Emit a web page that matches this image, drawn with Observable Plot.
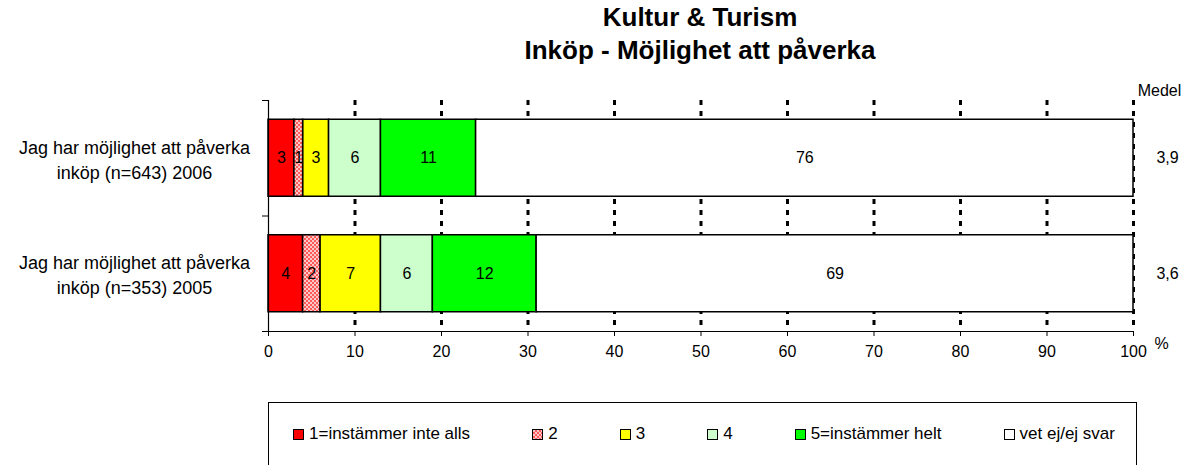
<!DOCTYPE html>
<html>
<head>
<meta charset="utf-8">
<script src="https://cdn.jsdelivr.net/npm/d3@7"></script>
<script src="https://cdn.jsdelivr.net/npm/@observablehq/plot@0.6"></script>
<style>
  html, body { margin: 0; padding: 0; background: #fff; }
  body { font-family: "Liberation Sans", Arial, sans-serif; }
  #wrap { position: relative; width: 1192px; height: 465px; overflow: hidden; }
  #chart { position: absolute; left: 0; top: 0; }
  .title { position: absolute; left: 350px; width: 700px; text-align: center; font-weight: bold; font-size: 26px; color: #000; line-height: 30px; }
  #legend { position: absolute; left: 268px; top: 402px; width: 869px; height: 80px; border: 1px solid #000; box-sizing: border-box; font-size: 17px;
            display: flex; justify-content: space-between; align-items: flex-start; padding: 21px 21px 0 24px; }
  .item { display: flex; align-items: center; white-space: nowrap; height: 20px; }
  .sw { width: 9px; height: 9px; border: 1px solid #000; margin-right: 5px; display: inline-block; }
</style>
</head>
<body>
<div id="wrap">
  <div id="chart"></div>
  <div class="title" style="top:2px">Kultur &amp; Turism</div>
  <div class="title" style="top:35px">Inköp - Möjlighet att påverka</div>
  <div id="legend"></div>
</div>
<script>
// ---- data ----
const categories = ["1=instämmer inte alls", "2", "3", "4", "5=instämmer helt", "vet ej/ej svar"];
const colors = ["#ff0000", "url(#pat2)", "#ffff00", "#ccffcc", "#00ff00", "#ffffff"];
const rowLabels = ["Jag har möjlighet att påverka\ninköp (n=643) 2006", "Jag har möjlighet att påverka\ninköp (n=353) 2005"];
const values2006 = [3, 1, 3, 6, 11, 76];
const values2005 = [4, 2, 7, 6, 12, 69];
const medel = ["3,9", "3,6"];
const xTicks = [0, 10, 20, 30, 40, 50, 60, 70, 80, 90, 100];

// build table
const rows = [values2006, values2005];
const data = [];
rows.forEach((vals, r) => {
  let acc = 0;
  vals.forEach((v, j) => {
    data.push({row: r, cat: categories[j], idx: j, value: v, x1: acc, x2: acc + v});
    acc += v;
  });
});
const rowData = rowLabels.map((label, i) => ({row: i, label, medel: medel[i]}));

const font = '"Liberation Sans", Arial, sans-serif';
const solid = data.filter(d => d.idx !== 1);
const patterned = data.filter(d => d.idx === 1);

const chart = Plot.plot({
  width: 1192,
  height: 465,
  marginLeft: 268,
  marginRight: 59,
  marginTop: 100,
  marginBottom: 134,
  style: {fontFamily: font, fontSize: "16px", color: "#000", background: "transparent", overflow: "visible"},
  x: {domain: [0, 100]},
  y: {domain: [0, 2], reverse: true},
  marks: [
    // dotted gridlines
    Plot.ruleX(xTicks.slice(1), {stroke: "#000", strokeWidth: 3, strokeDasharray: "5,6"}),
    // bars
    Plot.rect(solid, {x1: "x1", x2: "x2", y1: d => d.row + 1/6, y2: d => d.row + 5/6, fill: d => colors[d.idx], stroke: "#000", strokeWidth: 1.5}),
    Plot.rect(patterned, {x1: "x1", x2: "x2", y1: d => d.row + 1/6, y2: d => d.row + 5/6, fill: "url(#pat2)", stroke: "#000", strokeWidth: 1.5}),
    Plot.text(data, {x: d => (d.x1 + d.x2) / 2, y: d => d.row + 0.5, text: d => String(d.value), fontSize: 16, fill: "#000"}),
    // axes
    Plot.ruleY([2], {stroke: "#000", strokeWidth: 1.2}),
    Plot.ruleX([0], {stroke: "#000", strokeWidth: 1.2}),
    Plot.axisX({ticks: xTicks, tickSize: 5, tickPadding: 9, fontSize: 16, tickFormat: d => String(d)}),
    Plot.axisY({ticks: [0, 1, 2], tickSize: 6, tickFormat: () => ""}),
    // row labels
    Plot.text(rowData, {x: 0, y: d => d.row + 0.5, text: "label", dx: -134, textAnchor: "middle", lineHeight: 1.4, fontSize: 18, fill: "#000"}),
    // medel values
    Plot.text(rowData, {x: 100, y: d => d.row + 0.5, text: "medel", dx: 34, fontSize: 16, fill: "#000"}),
    Plot.text(["Medel"], {x: 100, y: 0, dx: 26, dy: -10, fontSize: 16, fill: "#000"}),
    Plot.text(["%"], {x: 100, y: 2, dx: 28, dy: 12, fontSize: 16, fill: "#000"})
  ]
});

// pattern for category "2"
const ns = "http://www.w3.org/2000/svg";
const defs = document.createElementNS(ns, "defs");
const pat = document.createElementNS(ns, "pattern");
pat.setAttribute("id", "pat2");
pat.setAttribute("width", "4");
pat.setAttribute("height", "4");
pat.setAttribute("patternUnits", "userSpaceOnUse");
[[0, 0, 4, 4, "#ff5a5a"], [0, 0, 2, 2, "#ffc8c8"], [2, 2, 2, 2, "#ffc8c8"]].forEach(([x, y, w, h, f]) => {
  const r = document.createElementNS(ns, "rect");
  r.setAttribute("x", x); r.setAttribute("y", y);
  r.setAttribute("width", w); r.setAttribute("height", h);
  r.setAttribute("fill", f);
  pat.appendChild(r);
});
defs.appendChild(pat);
chart.insertBefore(defs, chart.firstChild);
document.getElementById("chart").appendChild(chart);

// legend
const legend = document.getElementById("legend");
categories.forEach((c, i) => {
  const item = document.createElement("div");
  item.className = "item";
  const sw = document.createElement("span");
  sw.className = "sw";
  if (i === 1) {
    sw.style.background = "repeating-conic-gradient(#ff5a5a 0 25%, #ffc8c8 0 50%) 0 0/4px 4px";
  } else {
    sw.style.background = colors[i];
  }
  const t = document.createElement("span");
  t.textContent = c;
  item.appendChild(sw);
  item.appendChild(t);
  legend.appendChild(item);
});
</script>
</body>
</html>
